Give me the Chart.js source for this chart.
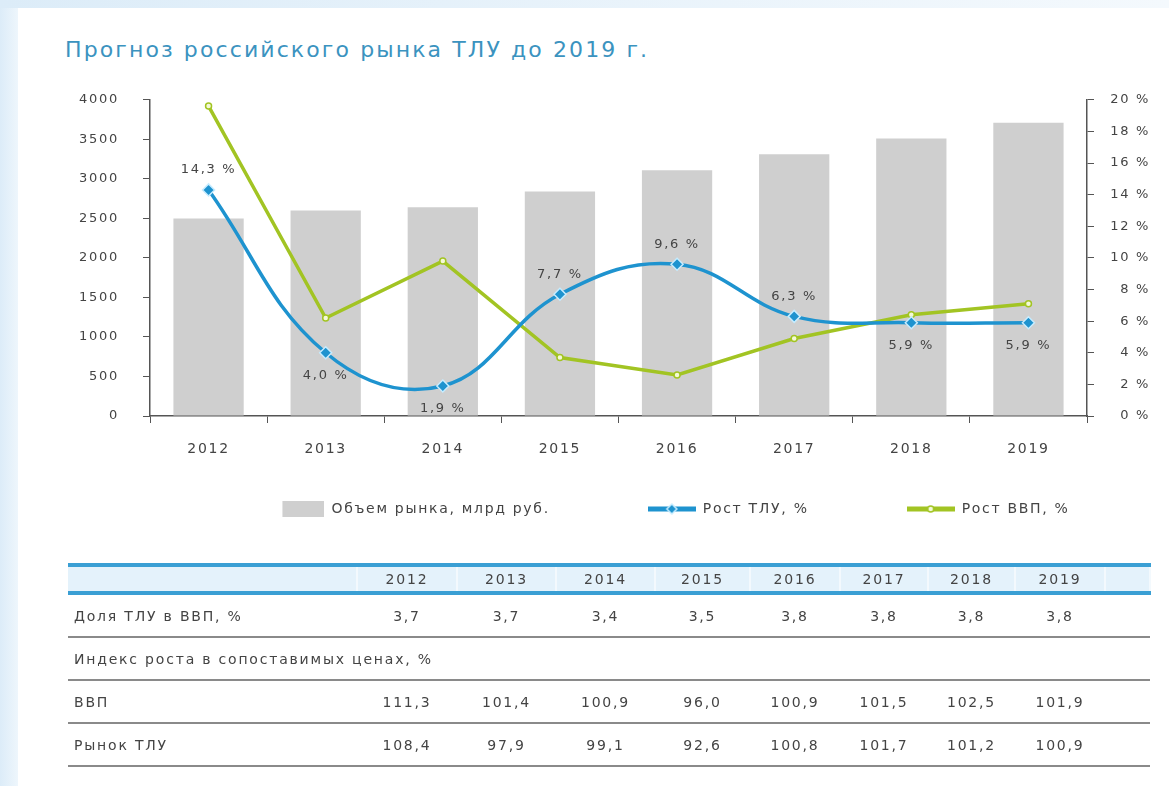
<!DOCTYPE html>
<html lang="ru">
<head>
<meta charset="utf-8">
<script src="https://cdn.jsdelivr.net/npm/chart.js@4"></script>
<style>
    html, body { margin: 0; padding: 0; }
    body {
        width: 1169px; height: 786px; overflow: hidden;
        background: linear-gradient(90deg, #dcecf8 0px, #eef6fc 18px, #ffffff 18px);
        font-family: "DejaVu Sans", "Noto Sans", sans-serif;
        position: relative;
    }
    #panel { position: absolute; left: 18px; top: 8px; right: 0; bottom: 0; background: #fff; }
    #topband { position: absolute; left: 0; top: 0; width: 1169px; height: 8px; background: linear-gradient(90deg, #dcecf8, #f4f9fd); }
    #title {
        position: absolute; left: 65px; top: 37px;
        font-size: 22px; color: #3b93bf; letter-spacing: 2.1px;
    }
    #chartBox { position: absolute; left: 0; top: 68px; width: 1169px; height: 516px; }
    table {
        position: absolute; left: 68px; top: 563px; width: 1082px;
        border-collapse: collapse; font-size: 14px; color: #444;
        table-layout: fixed; letter-spacing: 1.8px;
    }
    td { padding: 0; text-align: center; white-space: nowrap; }
    td.lbl { text-align: left; padding-left: 6px; }
    tr.head td { background: #e4f2fb; height: 24px; border-top: 4px solid #3a9fd4; border-bottom: 4px solid #3a9fd4; border-right: 2px solid #f3f9fd; }
    tr.row td { height: 41px; border-bottom: 2px solid #8a8a8a; }
</style>
</head>
<body>
<div id="topband"></div>
<div id="panel"></div>
<div id="title">Прогноз российского рынка ТЛУ до 2019 г.</div>
<div id="chartBox"><canvas id="mainChart"></canvas></div>
<table id="tbl"></table>
<script>
// Категории и ряды
const years = ['2012', '2013', '2014', '2015', '2016', '2017', '2018', '2019'];
const marketVolume = [2500, 2600, 2640, 2840, 3110, 3310, 3510, 3710];   // млрд руб.
const tluGrowth = [14.3, 4.0, 1.9, 7.7, 9.6, 6.3, 5.9, 5.9];             // %
const gdpGrowth = [19.6, 6.2, 9.8, 3.7, 2.6, 4.9, 6.4, 7.1];              // %

// Таблица под графиком
const shareTluInGdp = ['3,7', '3,7', '3,4', '3,5', '3,8', '3,8', '3,8', '3,8'];
const gdpIndex = ['111,3', '101,4', '100,9', '96,0', '100,9', '101,5', '102,5', '101,9'];
const tluIndex = ['108,4', '97,9', '99,1', '92,6', '100,8', '101,7', '101,2', '100,9'];

const colors = {
    bar: '#cfcfcf',
    blue: '#1e93cf',
    green: '#a2c423',
    text: '#444444',
    axis: '#555555'
};

const FONT = '"DejaVu Sans", "Noto Sans", sans-serif';
const SPACING = '1.7px';
const LEGEND_PAD = 98;

// Иконки для легенды
function legendIcon(kind) {
    const c = document.createElement('canvas');
    c.width = 48; c.height = 18;
    const g = c.getContext('2d');
    if (kind === 'bar') {
        g.fillStyle = colors.bar;
        g.fillRect(6, 1, 42, 16);
    } else {
        const col = kind === 'blue' ? colors.blue : colors.green;
        g.strokeStyle = col;
        g.lineWidth = 5;
        g.beginPath(); g.moveTo(0, 9); g.lineTo(48, 9); g.stroke();
        g.fillStyle = kind === 'blue' ? colors.blue : '#f4f9d8';
        g.strokeStyle = kind === 'blue' ? '#c6ecff' : col;
        g.lineWidth = 1.5;
        g.beginPath();
        if (kind === 'blue') {
            g.moveTo(24, 4); g.lineTo(29, 9); g.lineTo(24, 14); g.lineTo(19, 9); g.closePath();
        } else {
            g.arc(24, 9, 3, 0, Math.PI * 2);
        }
        g.fill(); g.stroke();
    }
    return c;
}

// Разрядка букв (шрифт оригинала шире)
const letterSpacing = {
    id: 'letterSpacing',
    beforeUpdate(chart) { chart.ctx.letterSpacing = SPACING; },
    beforeDraw(chart) { chart.ctx.letterSpacing = SPACING; }
};

// Легенда ближе к оси и сдвинута вправо, как в оригинале
const legendPlace = {
    id: 'legendPlace',
    afterLayout(chart) {
        const lg = chart.legend;
        const dy = (chart.chartArea.bottom + 92 - LEGEND_PAD - 6) - lg.top;
        lg.top += dy; lg.bottom += dy;
        lg.left += 62; lg.right += 62;
    }
};

// Подписи значений роста ТЛУ
const labelSide = ['above', 'below', 'below', 'above', 'above', 'above', 'below', 'below'];
const valueLabels = {
    id: 'valueLabels',
    afterDatasetsDraw(chart) {
        const meta = chart.getDatasetMeta(1);
        const ctx = chart.ctx;
        ctx.save();
        ctx.font = '13px ' + FONT;
        ctx.fillStyle = colors.text;
        ctx.textAlign = 'center';
        ctx.textBaseline = 'middle';
        meta.data.forEach((pt, i) => {
            const txt = tluGrowth[i].toFixed(1).replace('.', ',') + ' %';
            const dy = labelSide[i] === 'above' ? -20 : 23;
            ctx.fillText(txt, pt.x, pt.y + dy);
        });
        ctx.restore();
    }
};

const ctx = document.getElementById('mainChart').getContext('2d');
const mainChart = new Chart(ctx, {
    type: 'bar',
    data: {
        labels: years,
        datasets: [{
            type: 'line',
            label: 'Рост ВВП, %',
            data: gdpGrowth,
            yAxisID: 'yPct',
            borderColor: colors.green,
            borderWidth: 3.5,
            tension: 0,
            pointRadius: 3,
            pointBackgroundColor: '#f4f9d8',
            pointBorderColor: colors.green,
            pointBorderWidth: 1.5,
            order: 1
        }, {
            type: 'line',
            label: 'Рост ТЛУ, %',
            data: tluGrowth,
            yAxisID: 'yPct',
            borderColor: colors.blue,
            borderWidth: 3.5,
            tension: 0.4,
            pointStyle: 'rectRot',
            pointRadius: 6,
            pointBackgroundColor: colors.blue,
            pointBorderColor: '#c6ecff',
            pointBorderWidth: 1.5,
            order: 0
        }, {
            label: 'Объем рынка, млрд руб.',
            data: marketVolume,
            yAxisID: 'yVol',
            backgroundColor: colors.bar,
            categoryPercentage: 0.6,
            barPercentage: 1,
            order: 2
        }]
    },
    options: {
        responsive: true,
        maintainAspectRatio: false,
        animation: false,
        layout: { padding: { left: 72, right: 19, top: 20, bottom: 0 } },
        plugins: {
            tooltip: { enabled: false },
            legend: {
                position: 'bottom',
                labels: {
                    usePointStyle: true,
                    pointStyleWidth: 48,
                    padding: LEGEND_PAD,
                    color: colors.text,
                    font: { family: FONT, size: 14 },
                    generateLabels(chart) {
                        const order = [2, 1, 0];
                        const kinds = ['bar', 'blue', 'green'];
                        return order.map((di, k) => ({
                            text: chart.data.datasets[di].label,
                            pointStyle: legendIcon(kinds[k]),
                            datasetIndex: di,
                            fontColor: colors.text,
                            lineWidth: 0,
                            hidden: false
                        }));
                    }
                }
            }
        },
        scales: {
            x: {
                offset: true,
                grid: { offset: true, drawOnChartArea: false, drawTicks: true, tickLength: 7, color: colors.axis },
                border: { display: true, color: colors.axis, width: 1.5 },
                ticks: { color: colors.text, font: { family: FONT, size: 14 }, padding: 18 },
                afterFit(scale) { scale.height = 46; }
            },
            yVol: {
                position: 'left',
                min: 0, max: 4000,
                ticks: {
                    stepSize: 500, color: colors.text, font: { family: FONT, size: 13 }, padding: 24,
                    callback: v => String(v)
                },
                grid: { drawOnChartArea: false, tickLength: 7, color: colors.axis },
                border: { display: true, color: colors.axis, width: 1.5 },
                afterFit(scale) { scale.width = 78; }
            },
            yPct: {
                position: 'right',
                min: 0, max: 20,
                ticks: {
                    stepSize: 2, color: colors.text, font: { family: FONT, size: 13 }, padding: 18,
                    crossAlign: 'far',
                    callback: v => v + ' %'
                },
                grid: { drawOnChartArea: false, tickLength: 7, color: colors.axis },
                border: { display: true, color: colors.axis, width: 1.5 },
                afterFit(scale) { scale.width = 63; }
            }
        }
    },
    plugins: [letterSpacing, legendPlace, valueLabels]
});

// Таблица
function buildTable() {
    const widths = [289, 100, 99, 99, 95, 90, 88, 87, 90, 45];
    const tbl = document.getElementById('tbl');
    const cg = document.createElement('colgroup');
    widths.forEach(w => { const c = document.createElement('col'); c.style.width = w + 'px'; cg.appendChild(c); });
    tbl.appendChild(cg);
    const addRow = (cls, label, vals) => {
        const tr = document.createElement('tr');
        tr.className = cls;
        const td0 = document.createElement('td');
        td0.className = 'lbl';
        td0.textContent = label;
        tr.appendChild(td0);
        if (vals) {
            vals.forEach(v => { const td = document.createElement('td'); td.textContent = v; tr.appendChild(td); });
            tr.appendChild(document.createElement('td'));
        } else {
            td0.colSpan = 10;
        }
        tbl.appendChild(tr);
    };
    addRow('head', '', years);
    addRow('row', 'Доля ТЛУ в ВВП, %', shareTluInGdp);
    addRow('row', 'Индекс роста в сопоставимых ценах, %', null);
    addRow('row', 'ВВП', gdpIndex);
    addRow('row', 'Рынок ТЛУ', tluIndex);
}
buildTable();
</script>
</body>
</html>
